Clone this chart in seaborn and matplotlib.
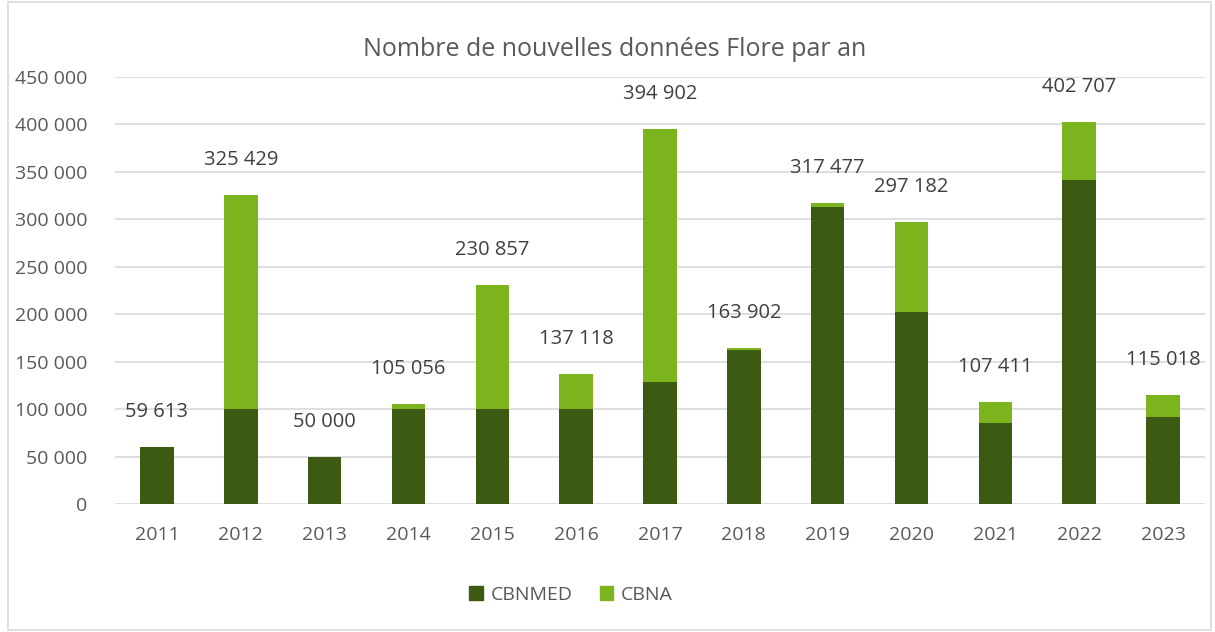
import matplotlib
matplotlib.use("Agg")
import matplotlib.pyplot as plt
import seaborn as sns
import pandas as pd
from matplotlib.patches import Rectangle, Patch
from matplotlib.ticker import FuncFormatter

# -----------------------------
# Data
# -----------------------------
years = ["2011", "2012", "2013", "2014", "2015", "2016", "2017",
         "2018", "2019", "2020", "2021", "2022", "2023"]
totals = [59613, 325429, 50000, 105056, 230857, 137118, 394902,
          163902, 317477, 297182, 107411, 402707, 115018]
cbnmed = [59613, 100000, 50000, 100000, 100000, 100000, 128600,
          161800, 312700, 202400, 85700, 341500, 92000]

df = pd.DataFrame({"annee": years, "total": totals, "CBNMED": cbnmed})

dark = "#3D5A12"
light = "#7CB41E"
text_col = "#595959"

sns.set_theme(style="white")
plt.rcParams["font.family"] = ["Open Sans", "DejaVu Sans"]

fig = plt.figure(figsize=(12.15, 6.32), dpi=100)
ax = fig.add_axes([115 / 1215, (632 - 504) / 632, 1090 / 1215, 427 / 632])

# total (CBNA on top) then CBNMED over it
sns.barplot(data=df, x="annee", y="total", color=light, width=0.4,
            saturation=1, linewidth=0, ax=ax, zorder=3)
sns.barplot(data=df, x="annee", y="CBNMED", color=dark, width=0.4,
            saturation=1, linewidth=0, ax=ax, zorder=4)

for i, t in enumerate(totals):
    ax.annotate(f"{t:,}".replace(",", " "), (i, t), xytext=(0, 18),
                textcoords="offset points", ha="center", va="bottom",
                fontsize=14.5, color="#404040")

ax.set_ylim(0, 450000)
ax.set_xlim(-0.5, 12.5)
ax.set_yticks(range(0, 450001, 50000))
ax.yaxis.set_major_formatter(FuncFormatter(lambda v, p: f"{int(v):,}".replace(",", " ")))
ax.grid(axis="y", color="#D9D9D9", linewidth=1.2, zorder=0)
ax.set_axisbelow(True)
for s in ax.spines.values():
    s.set_visible(False)
ax.set_xlabel("")
ax.set_ylabel("")
ax.tick_params(axis="both", length=0, labelsize=14, labelcolor=text_col)
ax.tick_params(axis="x", pad=16)
ax.tick_params(axis="y", pad=20)

fig.text(0.506, 1 - 50 / 632, "Nombre de nouvelles données Flore par an",
         ha="center", va="center", fontsize=18, color=text_col)

handles = [Patch(color=dark, label="CBNMED"), Patch(color=light, label="CBNA")]
fig.legend(handles=handles, loc="center", bbox_to_anchor=(0.47, 1 - 595 / 632),
           ncol=2, frameon=False, fontsize=14, labelcolor=text_col,
           handlelength=0.7, handleheight=0.7, handletextpad=0.4, columnspacing=1.4)

fig.patches.append(Rectangle((8 / 1215, 2 / 632), 1203 / 1215, 628 / 632,
                             transform=fig.transFigure, fill=False,
                             edgecolor="#D9D9D9", linewidth=1.2))

plt.savefig("out.png", dpi=100)
